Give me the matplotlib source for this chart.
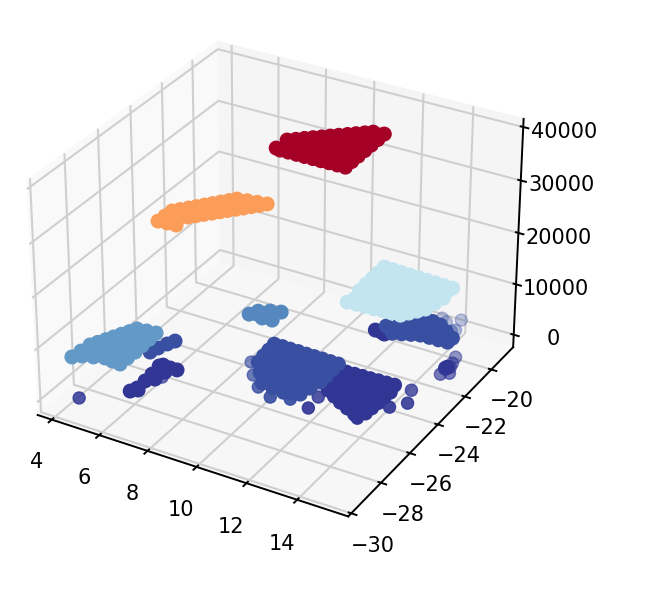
import matplotlib
matplotlib.use("Agg")
import matplotlib.pyplot as plt
from matplotlib.ticker import MultipleLocator

red_x = [8.92,8.95,9.19,9.42,9.65,9.89,10.12,10.35,10.59,10.82,11.06,11.29,11.70,11.70,11.70,11.70,11.70,11.70,11.71,11.39,11.06,10.74,10.42,10.09,9.77,9.44,9.12,11.12,11.37,11.62,9.06,9.30,9.55,9.79,10.04,10.28,10.53,10.77,11.01,11.26,11.50,9.20,9.45,9.69,9.93,10.18,10.42,10.66,10.90,11.15,11.39,10.31,10.55,10.80,11.04,11.28,11.52,11.41]
red_y = [-23.23,-22.55,-22.36,-22.16,-21.97,-21.78,-21.58,-21.39,-21.19,-21.00,-20.80,-20.61,-20.55,-21.01,-21.47,-21.92,-22.37,-22.81,-23.26,-23.26,-23.26,-23.27,-23.27,-23.28,-23.28,-23.28,-23.29,-20.95,-20.82,-20.68,-22.66,-22.53,-22.39,-22.26,-22.13,-21.99,-21.86,-21.73,-21.59,-21.46,-21.33,-23.16,-23.03,-22.89,-22.76,-22.63,-22.50,-22.36,-22.23,-22.10,-21.97,-23.13,-22.99,-22.86,-22.73,-22.60,-22.47,-23.10]
red_z = 38500

orange_x = [5.94,5.96,5.98,6.17,6.37,6.56,6.75,6.94,7.13,7.33,7.52,7.89,8.26,8.63,8.44,8.24,8.05,7.86,7.66,7.47,7.28,7.08,6.89,6.70,6.64,6.29,7.42,7.67,6.58,6.83,7.07,7.32,7.56,6.24,6.48]
orange_y = [-26.19,-25.78,-25.37,-25.15,-24.92,-24.70,-24.47,-24.25,-24.02,-23.79,-23.57,-23.50,-23.43,-23.36,-23.58,-23.79,-24.00,-24.20,-24.41,-24.62,-24.83,-25.04,-25.25,-25.46,-26.12,-26.15,-23.87,-23.73,-24.88,-24.75,-24.62,-24.48,-24.35,-25.63,-25.50]
orange_z = 28000

cyan_x = [11.84,12.20,12.55,12.91,13.26,13.62,13.97,14.32,14.67,14.71,14.61,14.51,14.32,14.13,13.94,13.60,13.26,12.91,12.57,12.23,11.88,11.87,11.86,11.86,11.85,12.04,12.15,12.40,12.65,12.90,12.02,12.27,12.51,12.76,13.01,13.26,13.51,13.76,12.13,12.38,12.62,12.87,13.12,13.37,13.62,13.87,14.11,14.36,14.61,11.99,12.24,12.49,12.73,12.98,13.23,13.47,13.72,13.97,14.22,14.46,12.60,12.84,13.09,13.34,13.58,13.83,14.07,14.32,13.69,13.93]
cyan_y = [-20.61,-20.62,-20.64,-20.65,-20.66,-20.68,-20.69,-20.70,-20.71,-21.46,-21.93,-22.40,-22.66,-22.91,-23.17,-23.19,-23.21,-23.24,-23.26,-23.28,-23.31,-22.42,-21.97,-21.52,-21.07,-20.74,-21.23,-21.09,-20.96,-20.82,-21.85,-21.71,-21.58,-21.44,-21.31,-21.17,-21.03,-20.90,-22.33,-22.19,-22.06,-21.92,-21.79,-21.65,-21.52,-21.38,-21.25,-21.11,-20.98,-22.94,-22.80,-22.67,-22.54,-22.40,-22.27,-22.13,-22.00,-21.86,-21.73,-21.59,-23.14,-23.01,-22.87,-22.74,-22.61,-22.47,-22.34,-22.20,-23.08,-22.94]
cyan_z = 13500

mid_x = [7.82,8.00,8.37,8.76,8.76,8.37,8.07,8.32,8.58]
mid_y = [-23.30,-22.97,-22.76,-22.63,-23.25,-23.30,-23.16,-23.02,-22.88]
mid_z = 5500

steel_x = [4.11,4.17,4.22,4.36,4.51,4.65,4.79,4.94,5.08,5.45,5.82,5.84,5.85,5.87,5.85,5.84,5.50,5.16,4.77,4.38,5.16,4.80,5.05,5.30,5.55,4.44,4.69,4.94,5.18,5.43,5.68,4.33,4.58,4.83,5.07,5.32,5.56,5.70]
steel_y = [-29.02,-28.55,-28.07,-27.80,-27.52,-27.24,-26.96,-26.68,-26.40,-26.35,-26.30,-26.77,-27.24,-27.70,-28.15,-28.59,-28.56,-28.52,-28.66,-28.80,-26.59,-27.31,-27.17,-27.04,-26.90,-28.03,-27.89,-27.76,-27.62,-27.49,-27.35,-28.61,-28.47,-28.34,-28.20,-28.07,-27.94,-28.38]
steel_z = 6700

blue_x = [9.01,9.35,9.68,10.02,10.36,10.69,11.02,11.36,11.69,11.70,11.71,11.72,11.61,11.50,11.21,10.92,10.44,9.97,9.55,9.13,9.09,9.05,9.11,9.23,9.48,9.73,9.98,9.35,9.59,9.84,10.09,10.34,10.59,10.84,11.09,9.46,9.71,9.96,10.21,10.46,10.70,10.95,11.20,11.45,9.82,10.07,10.32,10.57,10.81,11.06,11.31,11.56,10.18,10.43,10.68,10.92,11.17,11.42,10.79,11.03,11.28]
blue_y = [-23.52,-23.52,-23.53,-23.53,-23.54,-23.54,-23.54,-23.55,-23.55,-23.99,-24.43,-24.86,-25.36,-25.85,-25.94,-26.03,-25.96,-25.89,-25.35,-24.80,-24.38,-23.95,-23.69,-24.15,-24.01,-23.88,-23.74,-24.61,-24.47,-24.34,-24.20,-24.07,-23.93,-23.79,-23.66,-25.07,-24.93,-24.80,-24.66,-24.52,-24.39,-24.25,-24.12,-23.98,-25.38,-25.25,-25.11,-24.98,-24.84,-24.71,-24.57,-24.44,-25.70,-25.57,-25.43,-25.30,-25.16,-25.03,-25.88,-25.75,-25.61]
blue_z = 1800

band_x = [11.93,12.25,12.47,12.69,12.91,13.26,13.62,14.02,14.42,14.39,14.03,13.67,13.31,12.99,12.68,12.36,12.79,13.04,12.13,12.38,12.64,12.89,13.14,13.40,13.65,13.50,13.75,14.01,5.4,5.5,5.64,5.78]
band_y = [-20.54,-20.06,-19.83,-19.61,-19.38,-19.46,-19.54,-19.83,-20.11,-20.43,-20.45,-20.46,-20.48,-20.60,-20.73,-20.85,-19.69,-19.55,-20.59,-20.45,-20.31,-20.17,-20.03,-19.90,-19.76,-20.38,-20.24,-20.10,-26.09,-25.73,-25.35,-25.05]
band_z = 1800

dark_x = [11.96,12.28,12.59,12.91,13.23,13.55,13.87,13.96,13.93,13.91,13.88,13.85,13.55,13.14,12.74,12.36,11.98,11.97,11.97,12.10,12.34,12.59,12.84,13.09,12.20,12.45,12.69,12.94,13.19,13.43,13.68,12.55,12.79,13.04,13.29,13.53,13.78,12.89,13.14,13.39,13.63,13.48,13.73,5.91,6.02,6.01,5.98,5.91,6.0,6.32,6.61,6.31,6.25,6.12,11.47,11.73,11.89,14.95,14.92]
dark_y = [-23.44,-23.42,-23.41,-23.40,-23.38,-23.37,-23.35,-23.81,-24.20,-24.60,-24.99,-25.37,-25.61,-25.40,-25.20,-24.97,-24.74,-24.31,-23.88,-24.10,-23.96,-23.83,-23.69,-23.56,-24.55,-24.42,-24.28,-24.15,-24.01,-23.88,-23.74,-24.87,-24.74,-24.60,-24.47,-24.33,-24.20,-25.18,-25.05,-24.92,-24.78,-25.36,-25.23,-28.13,-27.85,-27.34,-26.85,-26.29,-26.17,-26.21,-26.2,-26.52,-27.07,-27.94,-20.52,-20.53,-20.6,-21.44,-21.53]
dark_z = 300

# loose points round the edges of the dense groups
stray_blue_x = [13.45,13.71,14.12,14.26,14.16,9.98,9.42,8.91,10.68,11.36]
stray_blue_y = [-19.09,-19.26,-18.88,-19.58,-19.71,-26.17,-25.6,-24.92,-26.51,-26.29]
stray_blue_z = 1800

stray_dark_x = [14.89,15.04,14.95,15.2,14.98,11.95,14.55,14.83,14.4,11.9,13.76,4.59,6.4]
stray_dark_y = [-20.72,-21.38,-21.96,-21.75,-21.12,-26.05,-23.35,-24.13,-24.65,-25.29,-25.78,-29.35,-26.84]
stray_dark_z = 300

plt.rcParams["grid.color"] = "#cfcfcf"
plt.rcParams["grid.linewidth"] = 1.5
plt.rcParams["axes.linewidth"] = 1.4
plt.rcParams["xtick.major.width"] = 1.4
plt.rcParams["ytick.major.width"] = 1.4

x = red_x + orange_x + cyan_x + mid_x + steel_x + blue_x + band_x + dark_x
y = red_y + orange_y + cyan_y + mid_y + steel_y + blue_y + band_y + dark_y
z = ([red_z] * len(red_x) + [orange_z] * len(orange_x) + [cyan_z] * len(cyan_x)
     + [mid_z] * len(mid_x) + [steel_z] * len(steel_x) + [blue_z] * len(blue_x)
     + [band_z] * len(band_x) + [dark_z] * len(dark_x))

sx = stray_blue_x + stray_dark_x
sy = stray_blue_y + stray_dark_y
sz = [stray_blue_z] * len(stray_blue_x) + [stray_dark_z] * len(stray_dark_x)

fig = plt.figure(figsize=(6.7, 5.9), dpi=100)
ax = fig.add_axes([-0.006, 0.0655, 0.825, 0.937], projection="3d")
ax.scatter(sx, sy, sz, c=sz, cmap="RdYlBu_r", vmin=dark_z, vmax=red_z, s=75)
ax.scatter(x, y, z, c=z, cmap="RdYlBu_r", vmin=dark_z, vmax=red_z, s=95, depthshade=False)

ax.set_xlim(3.4, 15.98)
ax.set_ylim(-30.2, -18.3)
ax.set_zlim(-2500, 41500)
ax.xaxis.set_major_locator(MultipleLocator(2))
ax.yaxis.set_major_locator(MultipleLocator(2))
ax.zaxis.set_major_locator(MultipleLocator(10000))
ax.tick_params(axis="x", labelsize=15, pad=9)
ax.tick_params(axis="y", labelsize=15, pad=6)
ax.tick_params(axis="z", labelsize=15, pad=10)
ax.xaxis.set_pane_color((0.975, 0.975, 0.975, 1))
ax.yaxis.set_pane_color((0.96, 0.96, 0.96, 1))
ax.zaxis.set_pane_color((0.97, 0.97, 0.97, 1))

fig.savefig("out.png", dpi=100)
